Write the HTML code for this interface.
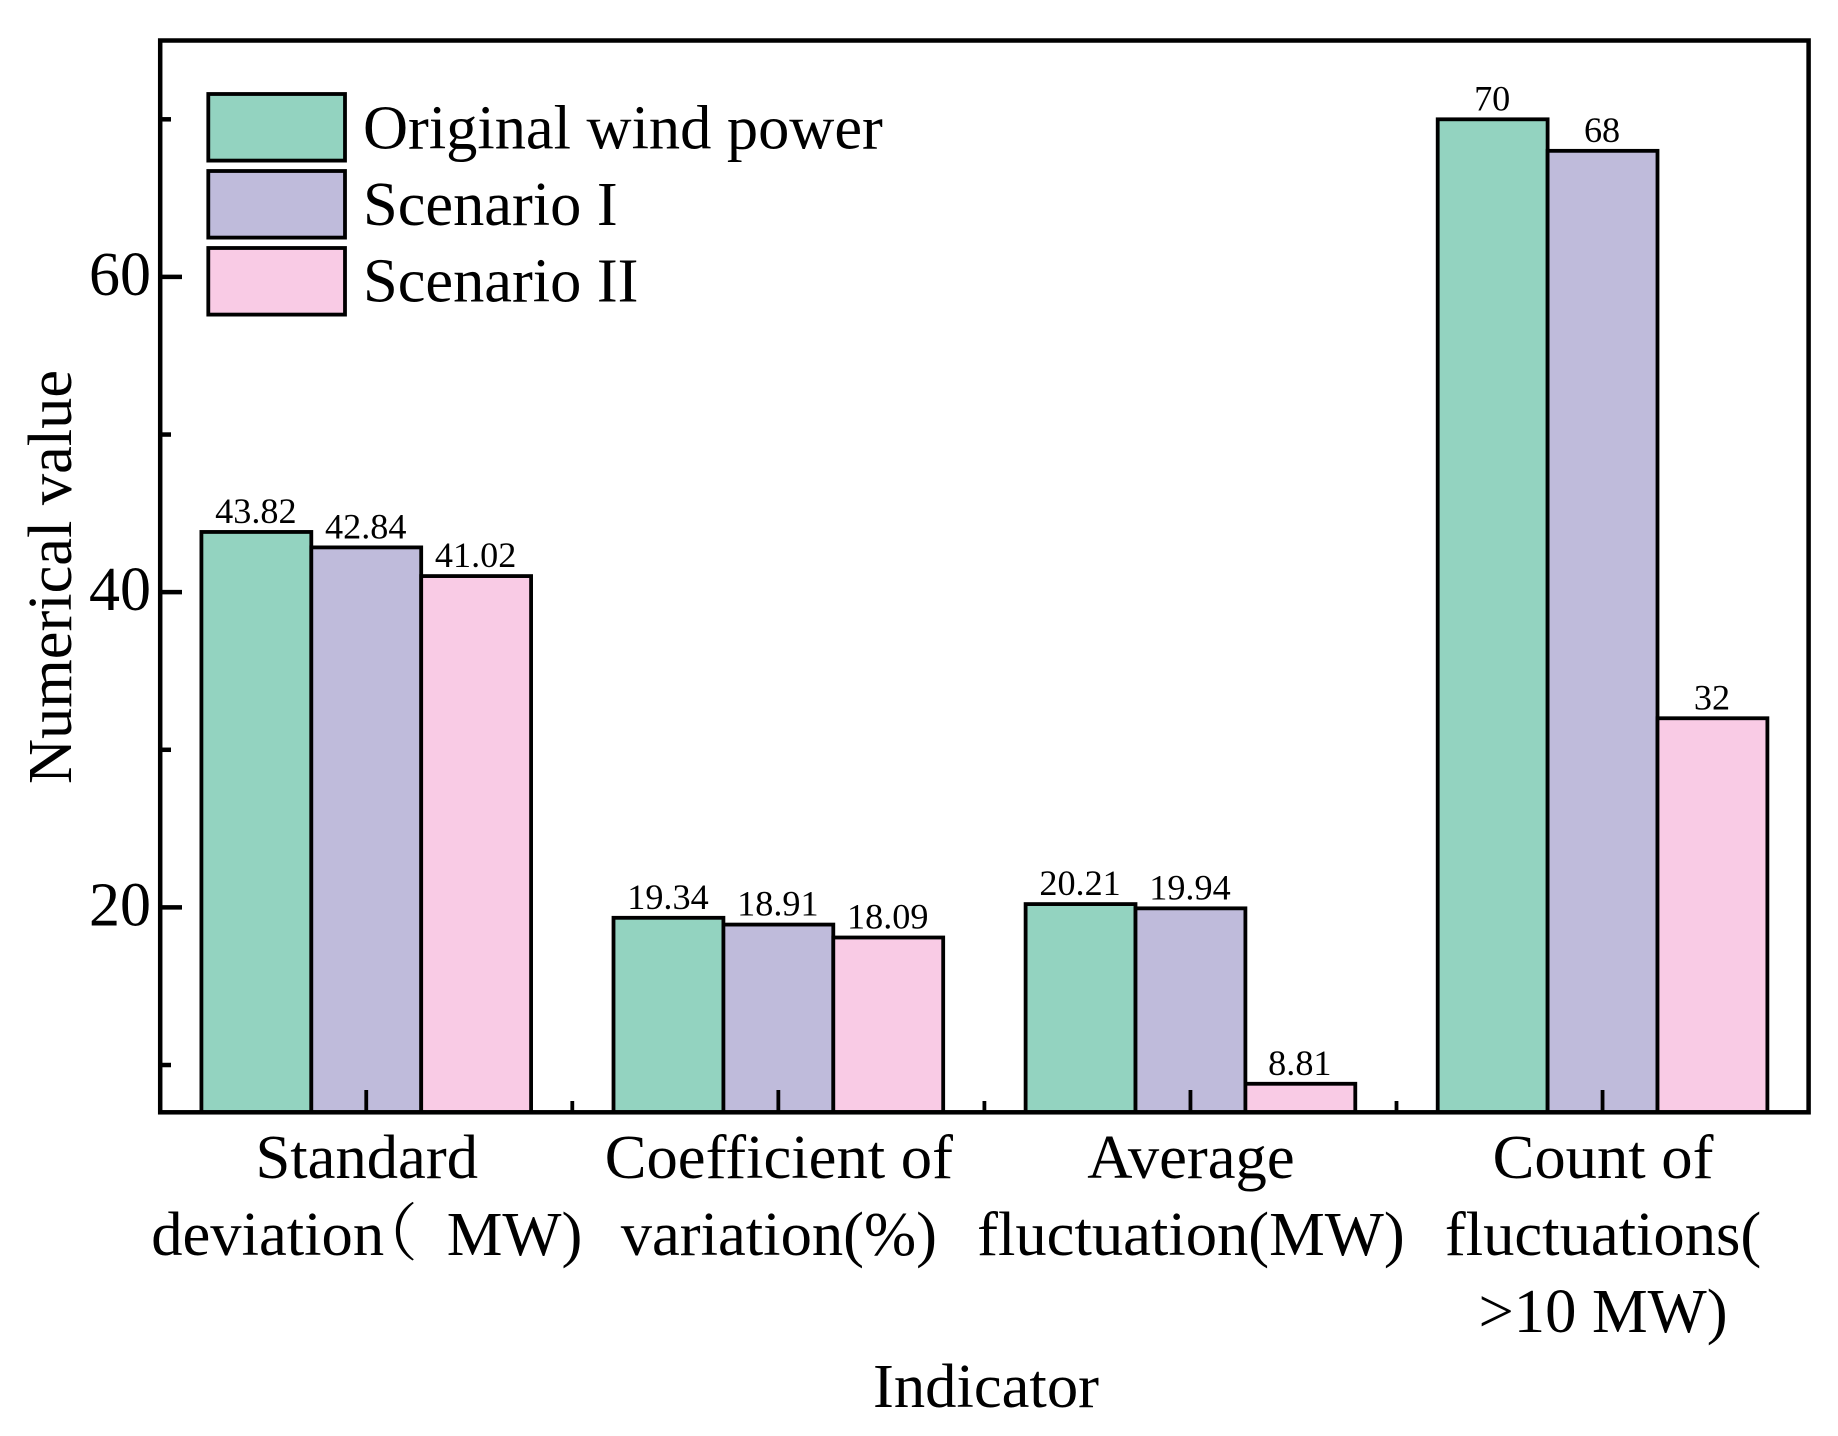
<!DOCTYPE html>
<html lang="en">
<head>
<meta charset="utf-8">
<title>Indicator comparison bar chart</title>
<style>
  html, body { margin: 0; padding: 0; background: #fff; }
  svg { display: block; }
  text { font-family: "Liberation Serif", "Noto Serif CJK SC", serif; fill: #000; }
</style>
</head>
<body>
<svg id="chart" xmlns="http://www.w3.org/2000/svg" width="1838" height="1436" viewBox="0 0 1838 1436">
  <rect x="0" y="0" width="1838" height="1436" fill="#ffffff"/>
  <g id="bars"></g>
  <g id="value-labels"></g>
  <g id="axes"></g>
  <g id="legend"></g>
  <text transform="translate(71 577) rotate(-90)" text-anchor="middle" font-size="62.4">Numerical value</text>
  <text x="986" y="1407" text-anchor="middle" font-size="62.6">Indicator</text>
</svg>
<script>
const categories = [
  ["Standard", "deviation（MW)"],
  ["Coefficient of", "variation(%)"],
  ["Average", "fluctuation(MW)"],
  ["Count of", "fluctuations(", ">10 MW)"]
];
const seriesNames = ["Original wind power", "Scenario I", "Scenario II"];
const originalWindPower = [43.82, 19.34, 20.21, 70];
const scenarioOne = [42.84, 18.91, 19.94, 68];
const scenarioTwo = [41.02, 18.09, 8.81, 32];
const seriesValues = [originalWindPower, scenarioOne, scenarioTwo];
const seriesColors = ["#93D3C0", "#BFBBDB", "#F9CBE5"];
const yMajorTicks = [20, 40, 60];
const yMinorTicks = [10, 30, 50, 70];
const yDomain = [7, 75];
const xDomain = [0.5, 4.5];

const NS = "http://www.w3.org/2000/svg";
const plot = { left: 160.2, right: 1808.6, top: 40.5, bottom: 1112.3 };
const groupShare = 0.8;

function xScale(v) {
  return plot.left + (v - xDomain[0]) / (xDomain[1] - xDomain[0]) * (plot.right - plot.left);
}
function yScale(v) {
  return plot.bottom - (v - yDomain[0]) / (yDomain[1] - yDomain[0]) * (plot.bottom - plot.top);
}
function make(tag, parent, props) {
  const el = document.createElementNS(NS, tag);
  for (const k in props) el.setAttribute(k, props[k]);
  parent.appendChild(el);
  return el;
}

const barsLayer = document.getElementById("bars");
const labelsLayer = document.getElementById("value-labels");
const axesLayer = document.getElementById("axes");
const legendLayer = document.getElementById("legend");

const barWidth = (xScale(2) - xScale(1)) * groupShare / seriesValues.length;

seriesValues.forEach(function (vals, s) {
  vals.forEach(function (v, c) {
    const x0 = xScale(c + 1) - barWidth * seriesValues.length / 2 + s * barWidth;
    const top = yScale(v);
    const bar = make("rect", barsLayer, {
      x: x0, y: top, width: barWidth, height: plot.bottom - top,
      fill: seriesColors[s], stroke: "#000", "stroke-width": 3.8
    });
    
    
    const label = make("text", labelsLayer, {
      x: x0 + barWidth / 2 - 0.5, y: top - 9, "text-anchor": "middle", "font-size": 36.2
    });
    label.textContent = String(v);
    
    
  });
});

yMajorTicks.forEach(function (v) {
  const t = make("line", axesLayer, {
    x1: plot.left, x2: 182, y1: yScale(v), y2: yScale(v), stroke: "#000", "stroke-width": 4.5
  });
  
  
  const lab = make("text", axesLayer, {
    x: 151, y: yScale(v) + 18, "text-anchor": "end", "font-size": 62
  });
  lab.textContent = String(v);
  
  
});

yMinorTicks.forEach(function (v) {
  const t = make("line", axesLayer, {
    x1: plot.left, x2: 171, y1: yScale(v), y2: yScale(v), stroke: "#000", "stroke-width": 4.5
  });
  
  
});

categories.forEach(function (lines, c) {
  const cx = xScale(c + 1);
  const major = make("line", axesLayer, {
    x1: cx, x2: cx, y1: plot.bottom, y2: 1090, stroke: "#000", "stroke-width": 3.8
  });
  
  
  if (c < categories.length - 1) {
    const mx = xScale(c + 1.5);
    const minor = make("line", axesLayer, {
      x1: mx, x2: mx, y1: plot.bottom, y2: 1101, stroke: "#000", "stroke-width": 3.8
    });
    
    
  }
  lines.forEach(function (line, i) {
    const lab = make("text", axesLayer, {
      x: cx + 0.5, y: 1178 + i * 77, "text-anchor": "middle", "font-size": 62.6
    });
    const parenAt = line.indexOf("（");
    if (parenAt >= 0) {
      lab.appendChild(document.createTextNode(line.slice(0, parenAt)));
      const paren = make("tspan", lab, { dx: -29 });
      paren.textContent = "（";
      const rest = make("tspan", lab, { dx: 29 });
      rest.textContent = line.slice(parenAt + 1);
    } else {
      lab.textContent = line;
    }
    
    
  });
});

const frame = make("rect", axesLayer, {
  x: plot.left, y: plot.top, width: plot.right - plot.left, height: plot.bottom - plot.top,
  fill: "none", stroke: "#000", "stroke-width": 4.5
});



seriesNames.forEach(function (name, i) {
  const y0 = 94 + i * 77;
  const swatch = make("rect", legendLayer, {
    x: 208.3, y: y0, width: 136.7, height: 66.6,
    fill: seriesColors[i], stroke: "#000", "stroke-width": 3.8
  });
  
  
  const lab = make("text", legendLayer, { x: 363, y: 148.3 + i * 76.7, "font-size": 62.4 });
  lab.textContent = name;
  
  
});
</script>
</body>
</html>
